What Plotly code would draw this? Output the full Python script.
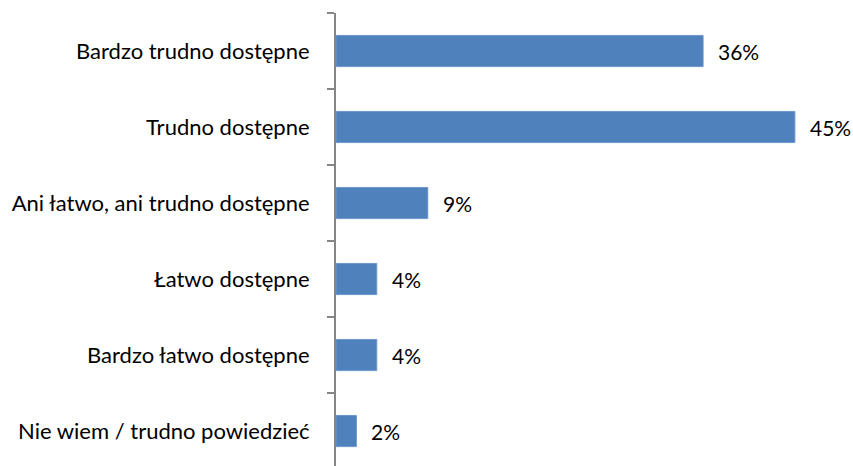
import plotly.graph_objects as go

categories = [
    "Bardzo trudno dostępne",
    "Trudno dostępne",
    "Ani łatwo, ani trudno dostępne",
    "Łatwo dostępne",
    "Bardzo łatwo dostępne",
    "Nie wiem / trudno powiedzieć",
]
values = [36, 45, 9, 4, 4, 2]
value_labels = ["36%", "45%", "9%", "4%", "4%", "2%"]

FONT = "Lato"
BAR = "#4F81BD"
AXIS = "#868686"

fig = go.Figure()
fig.add_trace(go.Bar(
    x=values,
    y=categories,
    orientation="h",
    width=0.41,
    marker=dict(color=BAR, line=dict(color="#6E97CA", width=1)),
    hoverinfo="skip",
))

for cat, v, lab in zip(categories, values, value_labels):
    fig.add_annotation(
        x=v, y=cat, text=lab, showarrow=False,
        xanchor="left", yanchor="middle", xshift=13,
        font=dict(family=FONT, size=21, color="#000000"),
    )

fig.update_layout(
    width=853, height=466,
    margin=dict(l=336, r=0, t=13, b=0),
    paper_bgcolor="white", plot_bgcolor="white",
    showlegend=False,
    font=dict(family=FONT, size=22, color="#000000"),
)
fig.update_xaxes(
    range=[0, 50.7], visible=False, showgrid=False, zeroline=False,
)
fig.update_yaxes(
    type="category",
    categoryorder="array", categoryarray=categories,
    range=[5.46, -0.5],
    tickson="boundaries",
    ticks="outside", ticklen=7, tickwidth=2, tickcolor=AXIS,
    showline=True, linecolor=AXIS, linewidth=2,
    showgrid=False, zeroline=False,
    ticklabelstandoff=20,
    tickfont=dict(family=FONT, size=22, color="#000000"),
)

fig.write_html("out.html")
